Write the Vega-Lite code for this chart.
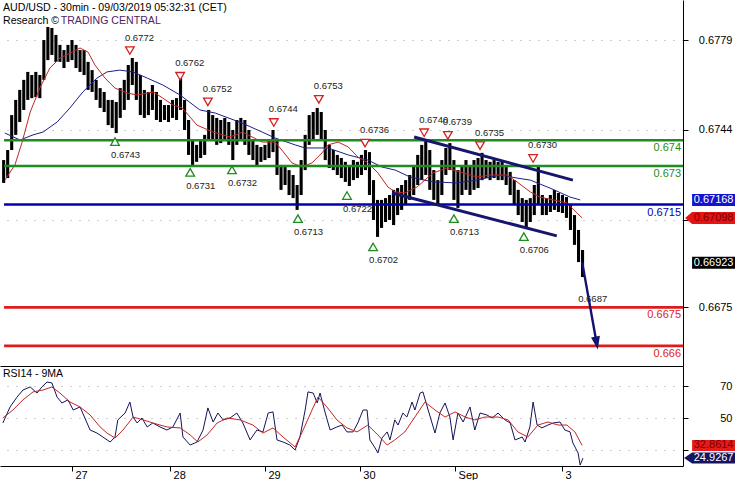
{
  "$schema": "https://vega.github.io/schema/vega-lite/v6.json",
  "padding": 0,
  "background": "white",
  "spacing": 0,
  "config": {
    "view": {"stroke": null},
    "font": "Liberation Sans",
    "axis": {"labelFont": "Liberation Sans", "labelFontSize": 11, "labelColor": "black", "tickColor": "black", "domainColor": "black", "domainWidth": 1, "tickWidth": 1}
  },
  "datasets": {
    "bars": [
      {"t":7,"h":0.67323,"l":0.67234},{"t":8,"h":0.67362,"l":0.67253},{"t":9,"h":0.67498,"l":0.67362},{"t":10,"h":0.67557,"l":0.67421},
      {"t":11,"h":0.67596,"l":0.67471},{"t":12,"h":0.67635,"l":0.67518},{"t":13,"h":0.67666,"l":0.67557},{"t":14,"h":0.67654,"l":0.67564},
      {"t":15,"h":0.67666,"l":0.67568},{"t":16,"h":0.67654,"l":0.67564},{"t":17,"h":0.67790,"l":0.67635},{"t":18,"h":0.67841,"l":0.67712},
      {"t":19,"h":0.67837,"l":0.67732},{"t":20,"h":0.67810,"l":0.67705},{"t":21,"h":0.67771,"l":0.67705},{"t":22,"h":0.67751,"l":0.67681},
      {"t":23,"h":0.67771,"l":0.67705},{"t":24,"h":0.67790,"l":0.67712},{"t":25,"h":0.67771,"l":0.67681},{"t":26,"h":0.67751,"l":0.67666},
      {"t":27,"h":0.67751,"l":0.67654},{"t":28,"h":0.67705,"l":0.67596},{"t":29,"h":0.67673,"l":0.67588},{"t":30,"h":0.67635,"l":0.67557},
      {"t":31,"h":0.67603,"l":0.67526},{"t":32,"h":0.67588,"l":0.67510},{"t":33,"h":0.67557,"l":0.67459},{"t":34,"h":0.67557,"l":0.67448},
      {"t":35,"h":0.67549,"l":0.67428},{"t":36,"h":0.67603,"l":0.67487},{"t":37,"h":0.67635,"l":0.67518},{"t":38,"h":0.67693,"l":0.67557},
      {"t":39,"h":0.67720,"l":0.67615},{"t":40,"h":0.67705,"l":0.67557},{"t":41,"h":0.67654,"l":0.67498},{"t":42,"h":0.67596,"l":0.67487},
      {"t":43,"h":0.67588,"l":0.67498},{"t":44,"h":0.67615,"l":0.67518},{"t":45,"h":0.67588,"l":0.67479},{"t":46,"h":0.67557,"l":0.67471},
      {"t":47,"h":0.67537,"l":0.67479},{"t":48,"h":0.67537,"l":0.67471},{"t":49,"h":0.67557,"l":0.67487},{"t":50,"h":0.67564,"l":0.67479},
      {"t":51,"h":0.67642,"l":0.67518},{"t":52,"h":0.67557,"l":0.67440},{"t":53,"h":0.67479,"l":0.67343},{"t":54,"h":0.67401,"l":0.67304},
      {"t":55,"h":0.67382,"l":0.67316},{"t":56,"h":0.67401,"l":0.67331},{"t":57,"h":0.67421,"l":0.67343},{"t":58,"h":0.67518,"l":0.67401},
      {"t":59,"h":0.67498,"l":0.67401},{"t":60,"h":0.67487,"l":0.67382},{"t":61,"h":0.67479,"l":0.67389},{"t":62,"h":0.67487,"l":0.67401},
      {"t":63,"h":0.67471,"l":0.67382},{"t":64,"h":0.67440,"l":0.67323},{"t":65,"h":0.67479,"l":0.67382},{"t":66,"h":0.67487,"l":0.67401},
      {"t":67,"h":0.67479,"l":0.67382},{"t":68,"h":0.67440,"l":0.67343},{"t":69,"h":0.67401,"l":0.67323},{"t":70,"h":0.67382,"l":0.67296},
      {"t":71,"h":0.67374,"l":0.67316},{"t":72,"h":0.67382,"l":0.67323},{"t":73,"h":0.67401,"l":0.67331},{"t":74,"h":0.67440,"l":0.67354},
      {"t":75,"h":0.67401,"l":0.67265},{"t":76,"h":0.67304,"l":0.67207},{"t":77,"h":0.67304,"l":0.67226},{"t":78,"h":0.67284,"l":0.67187},
      {"t":79,"h":0.67265,"l":0.67175},{"t":80,"h":0.67226,"l":0.67129},{"t":81,"h":0.67323,"l":0.67187},{"t":82,"h":0.67421,"l":0.67284},
      {"t":83,"h":0.67498,"l":0.67382},{"t":84,"h":0.67510,"l":0.67401},{"t":85,"h":0.67526,"l":0.67421},{"t":86,"h":0.67510,"l":0.67401},
      {"t":87,"h":0.67440,"l":0.67323},{"t":88,"h":0.67382,"l":0.67292},{"t":89,"h":0.67362,"l":0.67284},{"t":90,"h":0.67343,"l":0.67265},
      {"t":91,"h":0.67331,"l":0.67253},{"t":92,"h":0.67316,"l":0.67238},{"t":93,"h":0.67304,"l":0.67222},{"t":94,"h":0.67323,"l":0.67245},
      {"t":95,"h":0.67316,"l":0.67253},{"t":96,"h":0.67343,"l":0.67265},{"t":97,"h":0.67362,"l":0.67284},{"t":98,"h":0.67354,"l":0.67187},
      {"t":99,"h":0.67245,"l":0.67090},{"t":100,"h":0.67168,"l":0.67024},{"t":101,"h":0.67168,"l":0.67059},{"t":102,"h":0.67175,"l":0.67082},
      {"t":103,"h":0.67187,"l":0.67090},{"t":104,"h":0.67207,"l":0.67070},{"t":105,"h":0.67214,"l":0.67109},{"t":106,"h":0.67226,"l":0.67129},
      {"t":107,"h":0.67245,"l":0.67148},{"t":108,"h":0.67265,"l":0.67168},{"t":109,"h":0.67304,"l":0.67187},{"t":110,"h":0.67343,"l":0.67226},
      {"t":111,"h":0.67382,"l":0.67245},{"t":112,"h":0.67401,"l":0.67265},{"t":113,"h":0.67362,"l":0.67207},{"t":114,"h":0.67284,"l":0.67168},
      {"t":115,"h":0.67245,"l":0.67148},{"t":116,"h":0.67323,"l":0.67187},{"t":117,"h":0.67370,"l":0.67265},{"t":118,"h":0.67389,"l":0.67284},
      {"t":119,"h":0.67323,"l":0.67168},{"t":120,"h":0.67284,"l":0.67137},{"t":121,"h":0.67304,"l":0.67187},{"t":122,"h":0.67323,"l":0.67207},
      {"t":123,"h":0.67304,"l":0.67187},{"t":124,"h":0.67323,"l":0.67207},{"t":125,"h":0.67331,"l":0.67214},{"t":126,"h":0.67351,"l":0.67245},
      {"t":127,"h":0.67323,"l":0.67253},{"t":128,"h":0.67316,"l":0.67245},{"t":129,"h":0.67323,"l":0.67253},{"t":130,"h":0.67316,"l":0.67245},
      {"t":131,"h":0.67323,"l":0.67245},{"t":132,"h":0.67304,"l":0.67226},{"t":133,"h":0.67277,"l":0.67187},{"t":134,"h":0.67245,"l":0.67148},
      {"t":135,"h":0.67207,"l":0.67109},{"t":136,"h":0.67175,"l":0.67082},{"t":137,"h":0.67168,"l":0.67059},{"t":138,"h":0.67175,"l":0.67082},
      {"t":139,"h":0.67226,"l":0.67109},{"t":140,"h":0.67296,"l":0.67148},{"t":141,"h":0.67187,"l":0.67109},{"t":142,"h":0.67175,"l":0.67109},
      {"t":143,"h":0.67187,"l":0.67121},{"t":144,"h":0.67207,"l":0.67129},{"t":145,"h":0.67195,"l":0.67121},{"t":146,"h":0.67187,"l":0.67117},
      {"t":147,"h":0.67179,"l":0.67098},{"t":148,"h":0.67148,"l":0.67051},{"t":149,"h":0.67109,"l":0.66993},{"t":150,"h":0.67051,"l":0.66926},
      {"t":151,"h":0.66973,"l":0.66868}
    ],
    "ma_fast": [
      {"t":7.3,"p":0.67245},{"t":9.8,"p":0.67304},{"t":11.6,"p":0.67393},{"t":13.6,"p":0.67510},{"t":16.0,"p":0.67603},{"t":18.5,"p":0.67681},
      {"t":21.0,"p":0.67720},{"t":24.0,"p":0.67743},{"t":26.0,"p":0.67759},{"t":28.0,"p":0.67743},{"t":29.7,"p":0.67693},{"t":32.2,"p":0.67642},
      {"t":34.7,"p":0.67603},{"t":37.7,"p":0.67584},{"t":40.2,"p":0.67576},{"t":44.2,"p":0.67588},{"t":46.6,"p":0.67564},{"t":49.1,"p":0.67537},
      {"t":51.4,"p":0.67526},{"t":55.1,"p":0.67459},{"t":59.1,"p":0.67432},{"t":63.3,"p":0.67413},{"t":66.5,"p":0.67432},{"t":67.8,"p":0.67421},
      {"t":71.3,"p":0.67393},{"t":74.5,"p":0.67393},{"t":76.2,"p":0.67362},{"t":78.7,"p":0.67312},{"t":81.2,"p":0.67296},{"t":83.7,"p":0.67312},
      {"t":86.2,"p":0.67351},{"t":87.7,"p":0.67382},{"t":90.2,"p":0.67393},{"t":92.7,"p":0.67374},{"t":95.1,"p":0.67335},{"t":97.6,"p":0.67312},
      {"t":100.1,"p":0.67273},{"t":102.6,"p":0.67218},{"t":104.4,"p":0.67199},{"t":106.8,"p":0.67195},{"t":109.8,"p":0.67218},{"t":113.8,"p":0.67273},
      {"t":117.3,"p":0.67292},{"t":120.5,"p":0.67277},{"t":124.7,"p":0.67257},{"t":128.0,"p":0.67265},{"t":132.2,"p":0.67265},{"t":134.7,"p":0.67238},
      {"t":138.0,"p":0.67199},{"t":140.4,"p":0.67179},{"t":143.7,"p":0.67168},{"t":147.1,"p":0.67156},{"t":149.6,"p":0.67117},{"t":150.9,"p":0.67098}
    ],
    "ma_slow": [
      {"t":7.3,"p":0.67428},{"t":11.1,"p":0.67401},{"t":14.3,"p":0.67421},{"t":16.8,"p":0.67432},{"t":20.3,"p":0.67471},{"t":23.5,"p":0.67526},
      {"t":26.7,"p":0.67588},{"t":30.2,"p":0.67642},{"t":32.7,"p":0.67666},{"t":35.9,"p":0.67673},{"t":39.2,"p":0.67666},{"t":42.7,"p":0.67642},
      {"t":46.6,"p":0.67615},{"t":50.9,"p":0.67576},{"t":55.8,"p":0.67518},{"t":59.6,"p":0.67506},{"t":66.3,"p":0.67467},{"t":71.3,"p":0.67432},
      {"t":74.5,"p":0.67409},{"t":79.5,"p":0.67382},{"t":82.0,"p":0.67370},{"t":87.7,"p":0.67370},{"t":92.7,"p":0.67343},{"t":97.6,"p":0.67323},
      {"t":101.1,"p":0.67296},{"t":104.4,"p":0.67284},{"t":108.1,"p":0.67257},{"t":113.8,"p":0.67238},{"t":119.8,"p":0.67234},{"t":124.7,"p":0.67245},
      {"t":130.5,"p":0.67265},{"t":134.7,"p":0.67253},{"t":138.0,"p":0.67245},{"t":142.9,"p":0.67214},{"t":147.9,"p":0.67179},{"t":150.4,"p":0.67168}
    ],
    "levels": [
      {"level":0.674,"kind":"resistance"},{"level":0.673,"kind":"resistance"},{"level":0.6715,"kind":"pivot"},
      {"level":0.6675,"kind":"support"},{"level":0.666,"kind":"support"}
    ],
    "channel": [
      {"side":"upper","t":109.1,"p":0.67413},{"side":"upper","t":148.6,"p":0.67245},
      {"side":"lower","t":103.6,"p":0.67195},{"side":"lower","t":144.6,"p":0.67028}
    ],
    "pivots": [
      {"t":38.4,"value":0.6772,"dir":"high"},{"t":50.9,"value":0.6762,"dir":"high"},{"t":57.8,"value":0.6752,"dir":"high"},
      {"t":74.2,"value":0.6744,"dir":"high"},{"t":85.4,"value":0.6753,"dir":"high"},{"t":96.9,"value":0.6736,"dir":"high"},
      {"t":111.6,"value":0.6740,"dir":"high"},{"t":117.5,"value":0.6739,"dir":"high"},{"t":125.5,"value":0.6735,"dir":"high"},
      {"t":138.7,"value":0.6730,"dir":"high"},
      {"t":34.7,"value":0.6743,"dir":"low"},{"t":53.4,"value":0.6731,"dir":"low"},{"t":63.8,"value":0.6732,"dir":"low"},
      {"t":80.2,"value":0.6713,"dir":"low"},{"t":92.4,"value":0.6722,"dir":"low"},{"t":98.9,"value":0.6702,"dir":"low"},
      {"t":119.0,"value":0.6713,"dir":"low"},{"t":136.4,"value":0.6706,"dir":"low"},{"t":150.9,"value":0.6687,"dir":"low"}
    ],
    "arrow": [{"t":150.9,"p":0.66926},{"t":154.5,"p":0.66611}],
    "last_price": [
      {"series":"slow MA","value":0.67168},{"series":"fast MA","value":0.67098},{"series":"close","value":0.66923}
    ],
    "rsi": [
      {"t":6.8,"v":46.9},{"t":8.6,"v":56.9},{"t":10.3,"v":63},{"t":11.8,"v":67.5},{"t":13.6,"v":69.4},{"t":15.3,"v":65.6},{"t":16.5,"v":69.4},
      {"t":17.8,"v":72.5},{"t":19.0,"v":71.9},{"t":20.3,"v":63},{"t":21.5,"v":59.4},{"t":23.0,"v":61.3},{"t":24.3,"v":55},{"t":26.0,"v":56.9},
      {"t":27.2,"v":50},{"t":28.5,"v":42.5},{"t":30.2,"v":40.6},{"t":31.7,"v":38.1},{"t":33.5,"v":35},{"t":34.7,"v":38.1},{"t":35.4,"v":48.8},
      {"t":37.2,"v":53.1},{"t":38.4,"v":60},{"t":39.2,"v":50.6},{"t":40.2,"v":46.9},{"t":41.4,"v":50},{"t":42.7,"v":44.4},{"t":44.1,"v":46.9},
      {"t":45.9,"v":44.4},{"t":47.6,"v":42.5},{"t":49.1,"v":44.4},{"t":50.9,"v":53.1},{"t":51.6,"v":38.1},{"t":53.4,"v":33.1},{"t":55.1,"v":35},
      {"t":56.6,"v":42.5},{"t":57.8,"v":56.3},{"t":59.1,"v":47.5},{"t":60.3,"v":53.1},{"t":61.6,"v":48.8},{"t":63.3,"v":50},{"t":65.0,"v":53.1},
      {"t":66.5,"v":46.9},{"t":68.3,"v":36.3},{"t":70.0,"v":42.5},{"t":71.5,"v":41.3},{"t":72.8,"v":53.1},{"t":74.0,"v":53.8},{"t":75.0,"v":36.3},
      {"t":76.5,"v":35},{"t":78.2,"v":33.1},{"t":79.5,"v":30},{"t":80.7,"v":38.1},{"t":82.0,"v":55},{"t":82.7,"v":66.3},{"t":84.0,"v":65.6},
      {"t":85.0,"v":59.4},{"t":85.7,"v":65.6},{"t":87.0,"v":53.1},{"t":88.2,"v":42.5},{"t":89.9,"v":44.4},{"t":91.2,"v":45.6},{"t":92.4,"v":41.3},
      {"t":93.9,"v":41.3},{"t":95.1,"v":46.9},{"t":96.4,"v":55},{"t":97.4,"v":55},{"t":98.1,"v":36.3},{"t":99.4,"v":31.3},{"t":100.1,"v":28.1},
      {"t":101.1,"v":37.5},{"t":102.4,"v":41.3},{"t":103.1,"v":36.3},{"t":104.3,"v":48.8},{"t":105.1,"v":45.6},{"t":106.3,"v":53.1},{"t":107.3,"v":50.6},
      {"t":108.6,"v":60},{"t":109.3,"v":55},{"t":110.6,"v":65.6},{"t":111.3,"v":66.3},{"t":112.6,"v":55},{"t":114.3,"v":40.6},{"t":115.5,"v":53.1},
      {"t":116.8,"v":59.4},{"t":118.0,"v":50.6},{"t":118.8,"v":36.3},{"t":120.0,"v":53.1},{"t":121.3,"v":47.5},{"t":123.0,"v":56.9},{"t":124.2,"v":42.5},
      {"t":125.5,"v":53.1},{"t":127.2,"v":51.9},{"t":128.5,"v":50},{"t":130.0,"v":53.1},{"t":131.7,"v":48.8},{"t":133.0,"v":46.9},{"t":134.2,"v":36.3},
      {"t":136.0,"v":38.1},{"t":136.7,"v":35},{"t":137.9,"v":44.4},{"t":138.7,"v":60},{"t":139.7,"v":45.6},{"t":140.9,"v":43.8},{"t":142.4,"v":45.6},
      {"t":143.7,"v":46.9},{"t":145.4,"v":47.5},{"t":146.6,"v":42.5},{"t":147.9,"v":41.3},{"t":148.6,"v":34.4},{"t":149.9,"v":28.1},{"t":150.4,"v":20.6},
      {"t":151.1,"v":24.9}
    ],
    "rsi_ma": [
      {"t":6.8,"v":50},{"t":9.3,"v":55},{"t":11.8,"v":61.3},{"t":14.3,"v":66.3},{"t":16.8,"v":67.5},{"t":19.0,"v":69.4},{"t":21.0,"v":65.6},
      {"t":23.5,"v":60},{"t":26.0,"v":56.9},{"t":28.5,"v":51.9},{"t":31.0,"v":44.4},{"t":32.7,"v":40.6},{"t":34.7,"v":37.5},{"t":36.7,"v":42.5},
      {"t":39.2,"v":50.6},{"t":41.7,"v":48.8},{"t":44.1,"v":46.9},{"t":47.6,"v":44.4},{"t":50.9,"v":43.8},{"t":53.4,"v":39.4},{"t":55.3,"v":35},
      {"t":57.6,"v":39.4},{"t":60.1,"v":46.9},{"t":62.6,"v":50},{"t":65.8,"v":48.8},{"t":69.0,"v":45.6},{"t":71.5,"v":40.6},{"t":74.0,"v":43.8},
      {"t":76.5,"v":38.1},{"t":79.5,"v":31.9},{"t":81.5,"v":42.5},{"t":83.7,"v":55},{"t":85.2,"v":63.1},{"t":87.4,"v":56.9},{"t":89.9,"v":48.8},
      {"t":92.4,"v":43.8},{"t":94.9,"v":41.3},{"t":97.6,"v":45.6},{"t":100.1,"v":39.4},{"t":102.4,"v":33.1},{"t":104.3,"v":36.3},{"t":106.8,"v":41.3},
      {"t":109.3,"v":50.6},{"t":111.8,"v":60},{"t":114.3,"v":55},{"t":116.8,"v":50.6},{"t":119.3,"v":53.8},{"t":121.8,"v":50.6},{"t":124.2,"v":48.8},
      {"t":126.7,"v":50.6},{"t":130.0,"v":50.6},{"t":132.5,"v":48.8},{"t":134.9,"v":41.3},{"t":137.4,"v":38.1},{"t":139.9,"v":45.6},{"t":142.4,"v":47.5},
      {"t":144.9,"v":45.6},{"t":147.1,"v":45.6},{"t":149.1,"v":41.3},{"t":150.9,"v":32.9}
    ],
    "rsi_last": [{"series":"RSI MA","value":32.8614},{"series":"RSI","value":24.9267}]
  },
  "vconcat": [
    {
      "width": 683,
      "height": 366,
      "layer": [
        {
          "data": {"name": "bars"},
          "mark": {"type": "rule", "color": "black", "strokeWidth": 3.1},
          "encoding": {
            "x": {"field": "t", "type": "quantitative", "scale": {"domain": [6.09, 175.99], "nice": false, "zero": false},
                  "axis": {"labels": false, "ticks": false, "grid": false, "title": null, "domain": true}},
            "y": {"field": "l", "type": "quantitative", "scale": {"domain": [0.665217, 0.679458], "nice": false, "zero": false},
                  "axis": {"orient": "right", "values": [0.6779, 0.6744, 0.6709, 0.6675], "format": ".4f", "labelExpr": "datum.value > 0.6705 && datum.value < 0.6712 ? '' : datum.label", "grid": true, "gridColor": "#9a9a9a", "gridDash": [1, 8], "tickSize": 5, "labelAlign": "right", "labelPadding": 44, "title": null}},
            "y2": {"field": "h"}
          }
        },
        {
          "data": {"name": "ma_slow"},
          "mark": {"type": "line", "color": "#1e1e8c", "strokeWidth": 1},
          "encoding": {"x": {"field": "t", "type": "quantitative"}, "y": {"field": "p", "type": "quantitative"}}
        },
        {
          "data": {"name": "ma_fast"},
          "mark": {"type": "line", "color": "#c42626", "strokeWidth": 1},
          "encoding": {"x": {"field": "t", "type": "quantitative"}, "y": {"field": "p", "type": "quantitative"}}
        },
        {
          "data": {"name": "levels"},
          "mark": {"type": "rule", "strokeWidth": 2.6},
          "encoding": {
            "y": {"field": "level", "type": "quantitative"},
            "x": {"datum": 7.1},
            "x2": {"datum": 175.99},
            "color": {"field": "kind", "type": "nominal", "scale": {"domain": ["resistance", "pivot", "support"], "range": ["#1e8c1e", "#0000b0", "#e01b1b"]}, "legend": null}
          }
        },
        {
          "data": {"name": "levels"},
          "mark": {"type": "text", "align": "right", "baseline": "top", "dy": 2, "fontSize": 11, "font": "Liberation Sans"},
          "encoding": {
            "y": {"field": "level", "type": "quantitative"},
            "x": {"datum": 175.5},
            "text": {"field": "level", "type": "quantitative", "format": "~g"},
            "color": {"field": "kind", "type": "nominal", "legend": null}
          }
        },
        {
          "data": {"name": "channel"},
          "mark": {"type": "line", "color": "#16166e", "strokeWidth": 3},
          "encoding": {"x": {"field": "t", "type": "quantitative"}, "y": {"field": "p", "type": "quantitative"}, "detail": {"field": "side"}}
        },
        {
          "data": {"name": "pivots"},
          "transform": [{"filter": "datum.dir == 'high'"}],
          "mark": {"type": "point", "shape": "triangle-down", "filled": true, "fill": "white", "stroke": "#d42020", "strokeWidth": 1.3, "size": 75, "opacity": 1, "yOffset": -7.5},
          "encoding": {"x": {"field": "t", "type": "quantitative"}, "y": {"field": "value", "type": "quantitative"}}
        },
        {
          "data": {"name": "pivots"},
          "transform": [{"filter": "datum.dir == 'low' && datum.value != 0.6687"}],
          "mark": {"type": "point", "shape": "triangle-up", "filled": true, "fill": "white", "stroke": "#1e8c1e", "strokeWidth": 1.3, "size": 75, "opacity": 1, "yOffset": 9},
          "encoding": {"x": {"field": "t", "type": "quantitative"}, "y": {"field": "value", "type": "quantitative"}}
        },
        {
          "data": {"name": "pivots"},
          "transform": [{"filter": "datum.dir == 'high'"}],
          "mark": {"type": "text", "align": "left", "baseline": "middle", "dx": -5, "yOffset": -20.5, "fontSize": 9.5, "font": "Liberation Sans", "color": "#222"},
          "encoding": {"x": {"field": "t", "type": "quantitative"}, "y": {"field": "value", "type": "quantitative"}, "text": {"field": "value", "type": "quantitative", "format": ".4f"}}
        },
        {
          "data": {"name": "pivots"},
          "transform": [{"filter": "datum.dir == 'low'"}],
          "mark": {"type": "text", "align": "left", "baseline": "middle", "dx": -4, "yOffset": 22.5, "fontSize": 9.5, "font": "Liberation Sans", "color": "#222"},
          "encoding": {"x": {"field": "t", "type": "quantitative"}, "y": {"field": "value", "type": "quantitative"}, "text": {"field": "value", "type": "quantitative", "format": ".4f"}}
        },
        {
          "data": {"name": "arrow"},
          "mark": {"type": "line", "color": "#14146e", "strokeWidth": 2.4},
          "encoding": {"x": {"field": "t", "type": "quantitative"}, "y": {"field": "p", "type": "quantitative"}}
        },
        {
          "data": {"name": "arrow"},
          "transform": [{"filter": "datum.t > 152"}],
          "mark": {"type": "point", "shape": "M-4.5,-6.5L4.5,-6.5L0,6.5Z", "size": 4, "angle": -10, "filled": true, "fill": "#14146e", "strokeWidth": 0, "opacity": 1},
          "encoding": {"x": {"field": "t", "type": "quantitative"}, "y": {"field": "p", "type": "quantitative"}}
        },
        {
          "data": {"name": "last_price"},
          "transform": [{"filter": "datum.series != 'fast MA'"}],
          "mark": {"type": "point", "shape": "M-21.5,-6H21.5V6H-21.5Z", "size": 4, "filled": true, "strokeWidth": 0, "opacity": 1},
          "encoding": {
            "x": {"datum": 183.6},
            "y": {"field": "value", "type": "quantitative"},
            "fill": {"field": "series", "type": "nominal", "scale": {"domain": ["slow MA", "fast MA", "close", "RSI MA", "RSI"], "range": ["#1414cc", "#e41414", "#000000", "#e41b1b", "#141460"]}, "legend": null}
          }
        },
        {
          "data": {"name": "last_price"},
          "transform": [{"filter": "datum.series == 'fast MA'"}],
          "mark": {"type": "point", "shape": "M-28.5,0L-21.5,-6H21.5V6H-21.5Z", "size": 4, "filled": true, "strokeWidth": 0, "opacity": 1},
          "encoding": {
            "x": {"datum": 183.6},
            "y": {"field": "value", "type": "quantitative"},
            "fill": {"field": "series", "type": "nominal", "legend": null}
          }
        },
        {
          "data": {"name": "last_price"},
          "mark": {"type": "text", "align": "center", "baseline": "middle", "fontSize": 11, "font": "Liberation Sans"},
          "encoding": {
            "x": {"datum": 183.6},
            "y": {"field": "value", "type": "quantitative"},
            "text": {"field": "value", "type": "quantitative", "format": ".5f"},
            "color": {"condition": {"test": "datum.series == 'fast MA'", "value": "#7a0000"}, "value": "white"}
          }
        },
        {
          "data": {"values": [{"caption": "AUD/USD - 30min - 09/03/2019 05:32:31 (CET)"}]},
          "mark": {"type": "text", "align": "left", "baseline": "middle", "fontSize": 10.6, "font": "Liberation Sans", "color": "black"},
          "encoding": {"x": {"datum": 6.84}, "y": {"datum": 0.67915}, "text": {"field": "caption"}}
        },
        {
          "data": {"values": [{"caption": "Research ©"}]},
          "mark": {"type": "text", "align": "left", "baseline": "middle", "fontSize": 10.6, "font": "Liberation Sans", "color": "black"},
          "encoding": {"x": {"datum": 6.84}, "y": {"datum": 0.67864}, "text": {"field": "caption"}}
        },
        {
          "data": {"values": [{"caption": "TRADING CENTRAL"}]},
          "mark": {"type": "text", "align": "left", "baseline": "middle", "fontSize": 10.6, "font": "Liberation Sans", "color": "#4f2266"},
          "encoding": {"x": {"datum": 21.2}, "y": {"datum": 0.67864}, "text": {"field": "caption"}}
        }
      ]
    },
    {
      "width": 683,
      "height": 100,
      "layer": [
        {
          "data": {"name": "rsi"},
          "mark": {"type": "line", "color": "#14145a", "strokeWidth": 1},
          "encoding": {
            "x": {"field": "t", "type": "quantitative", "scale": {"domain": [6.09, 175.99], "nice": false, "zero": false},
                  "axis": {"orient": "bottom", "values": [24, 48.4, 72, 95.6, 119.3, 145.9],
                           "labelExpr": "datum.value < 30 ? '27' : datum.value < 60 ? '28' : datum.value < 80 ? '29' : datum.value < 100 ? '30' : datum.value < 130 ? 'Sep' : '3'",
                           "tickSize": 5, "labelAlign": "left", "labelBaseline": "top", "labelPadding": -2, "labelOffset": 3, "grid": false, "title": null,
                           "labelFlush": false, "labelOverlap": false, "labelBound": false}},
            "y": {"field": "v", "type": "quantitative", "scale": {"domain": [20, 82.5], "nice": false, "zero": false},
                  "axis": {"orient": "right", "values": [30, 50, 70], "labelExpr": "datum.value == 30 ? '' : datum.label", "grid": true, "gridColor": "#9a9a9a", "gridDash": [1, 8], "tickSize": 5, "labelAlign": "right", "labelPadding": 44, "title": null}}
          }
        },
        {
          "data": {"name": "rsi_ma"},
          "mark": {"type": "line", "color": "#c42626", "strokeWidth": 1},
          "encoding": {"x": {"field": "t", "type": "quantitative"}, "y": {"field": "v", "type": "quantitative"}}
        },
        {
          "data": {"values": [{"caption": "RSI14 - 9MA"}]},
          "mark": {"type": "text", "align": "left", "baseline": "middle", "fontSize": 10.5, "font": "Liberation Sans", "color": "black"},
          "encoding": {"x": {"datum": 6.84}, "y": {"datum": 77.5}, "text": {"field": "caption"}}
        },
        {
          "data": {"name": "rsi_last"},
          "transform": [{"filter": "datum.series == 'RSI MA'"}],
          "mark": {"type": "point", "shape": "M-21.5,-5.5H21.5V5.5H-21.5Z", "size": 4, "filled": true, "strokeWidth": 0, "opacity": 1},
          "encoding": {
            "x": {"datum": 183.6},
            "y": {"field": "value", "type": "quantitative"},
            "fill": {"field": "series", "type": "nominal", "scale": {"domain": ["slow MA", "fast MA", "close", "RSI MA", "RSI"], "range": ["#1414cc", "#e41414", "#000000", "#e41b1b", "#141460"]}, "legend": null}
          }
        },
        {
          "data": {"name": "rsi_last"},
          "transform": [{"filter": "datum.series == 'RSI'"}],
          "mark": {"type": "point", "shape": "M-29.5,0L-21.5,-5.5H21.5V5.5H-21.5Z", "size": 4, "filled": true, "strokeWidth": 0, "opacity": 1},
          "encoding": {
            "x": {"datum": 183.6},
            "y": {"field": "value", "type": "quantitative"},
            "fill": {"field": "series", "type": "nominal", "legend": null}
          }
        },
        {
          "data": {"name": "rsi_last"},
          "mark": {"type": "text", "align": "center", "baseline": "middle", "fontSize": 11, "font": "Liberation Sans"},
          "encoding": {
            "x": {"datum": 183.6},
            "y": {"field": "value", "type": "quantitative"},
            "text": {"field": "value", "type": "quantitative", "format": ".4f"},
            "color": {"condition": {"test": "datum.series == 'RSI MA'", "value": "#7a0000"}, "value": "white"}
          }
        }
      ]
    }
  ]
}
